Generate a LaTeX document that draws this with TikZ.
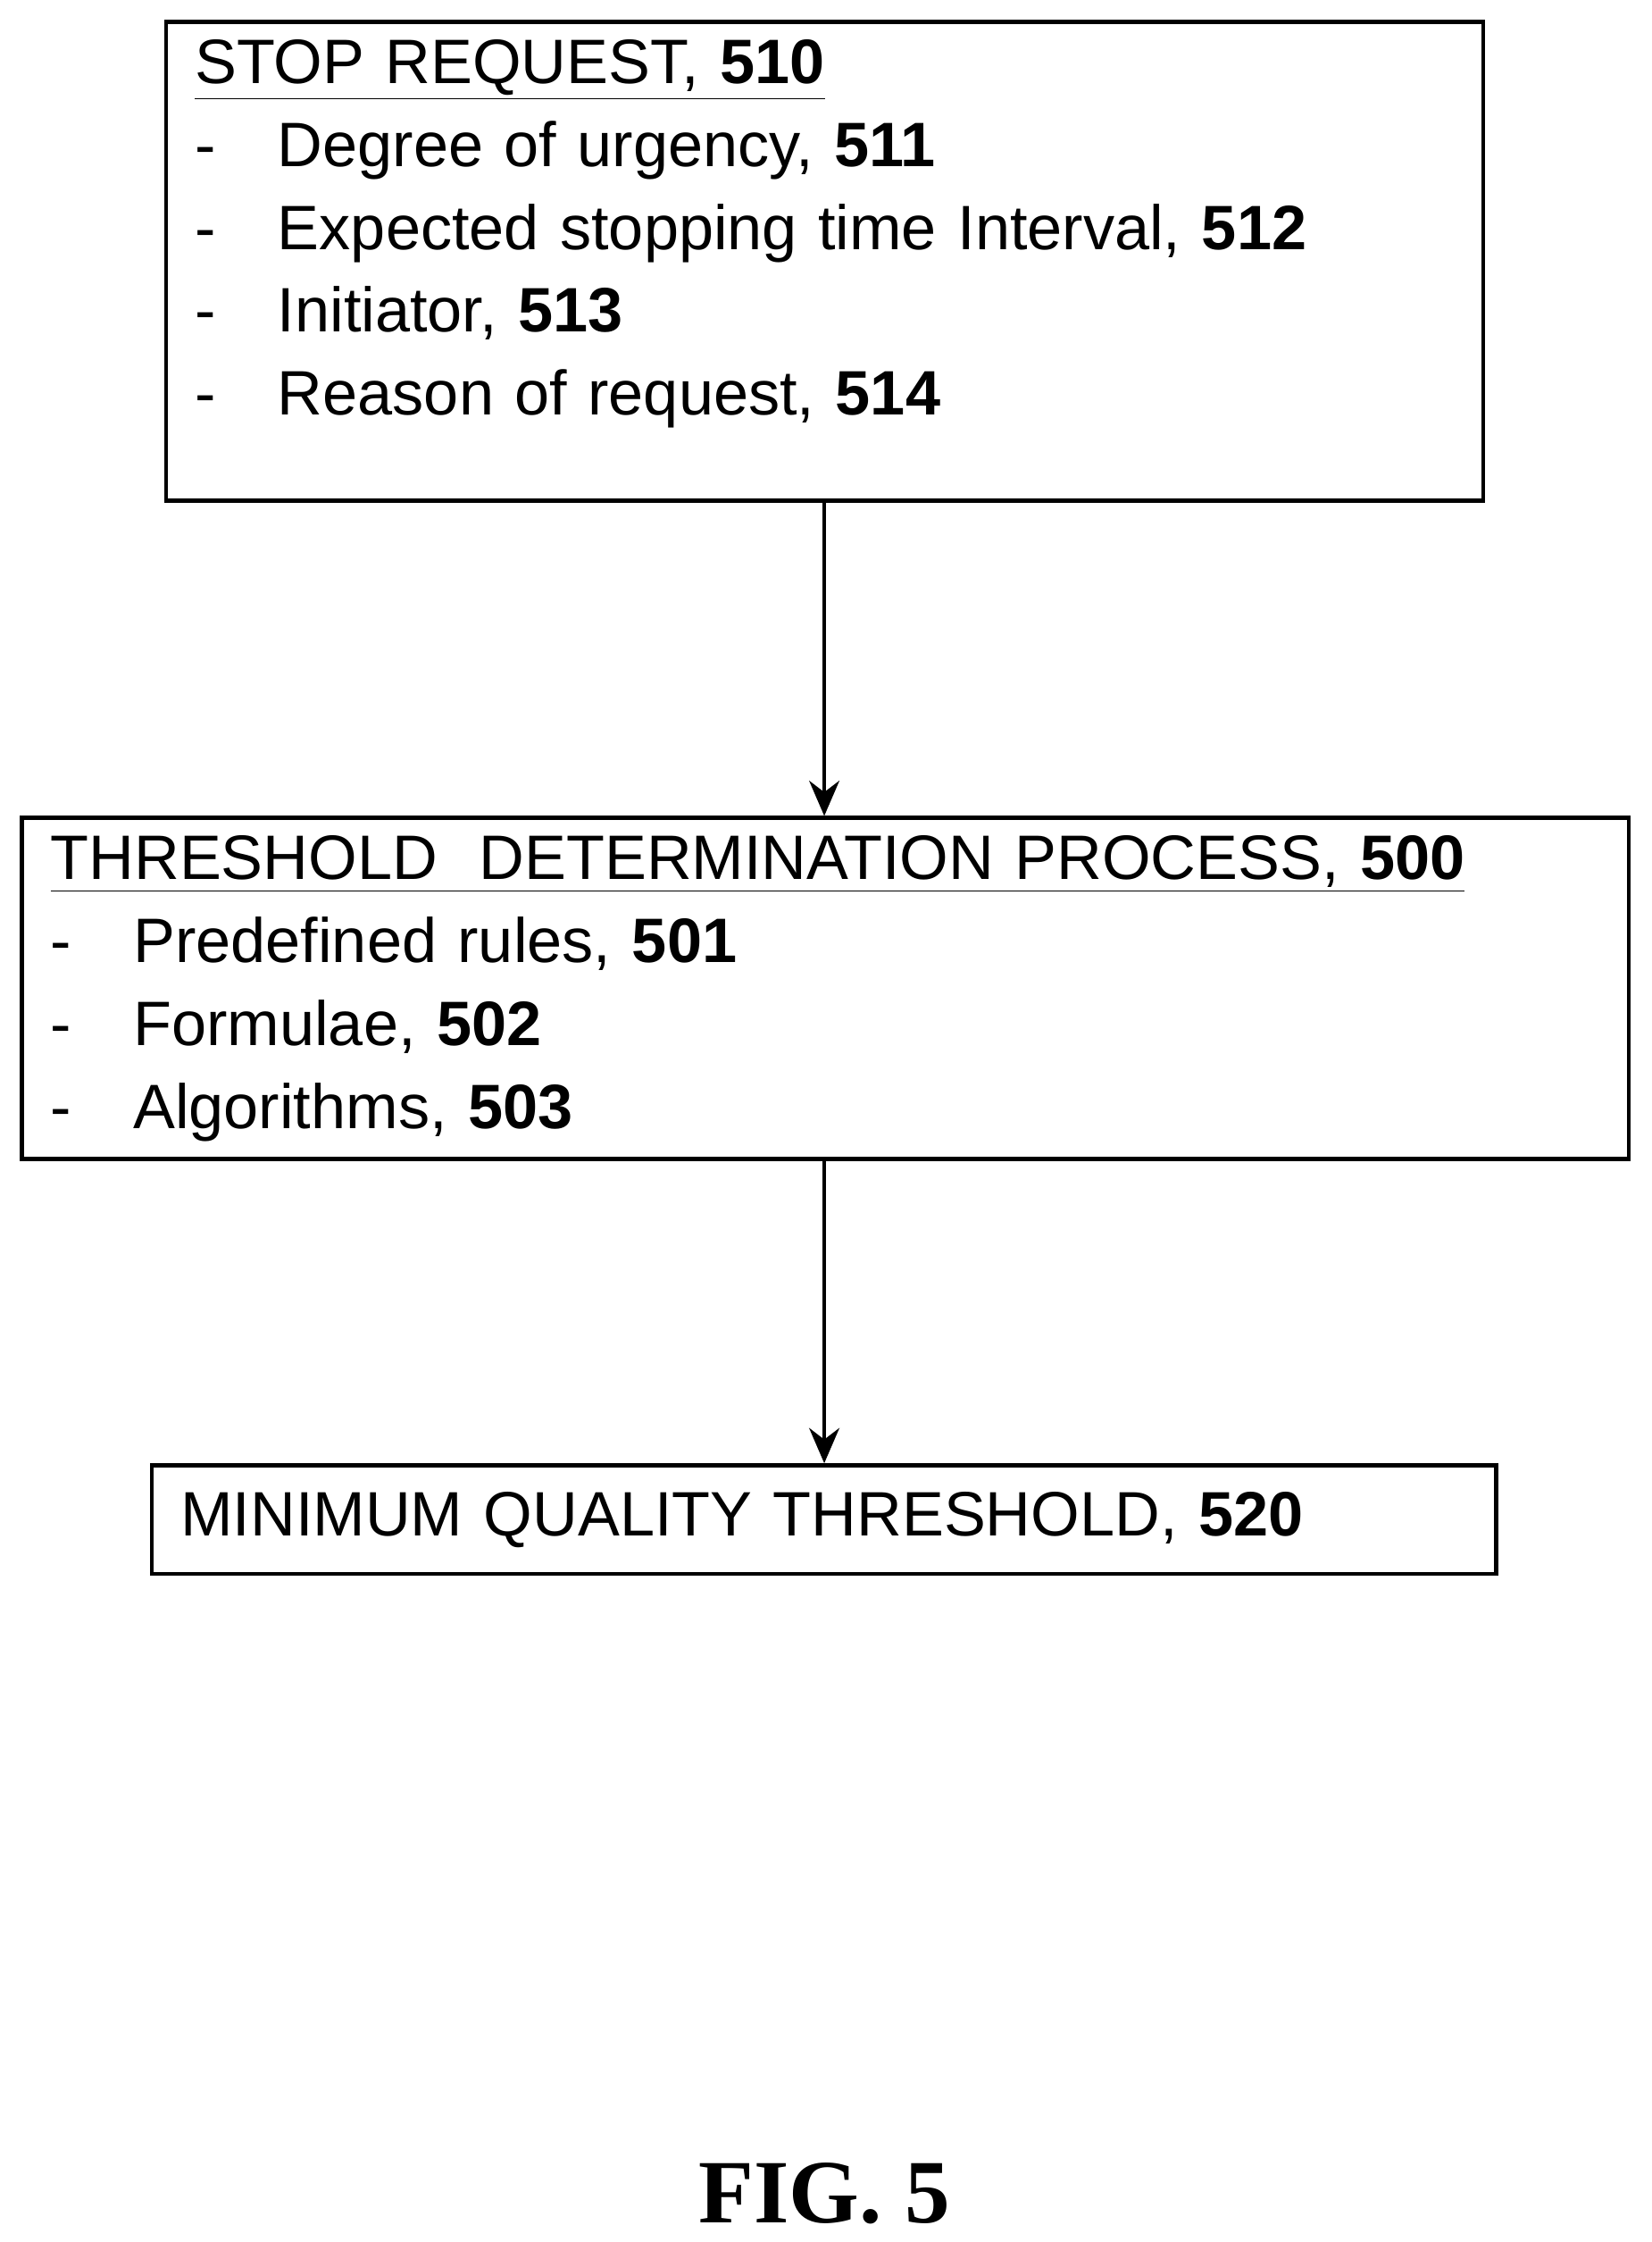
\documentclass[tikz,border=0pt]{standalone}
\usepackage{fontspec}
\setmainfont{Liberation Sans}
\newfontfamily\figfont{Liberation Serif}
\usetikzlibrary{arrows.meta}
\tikzstyle{arrow} = [-{Stealth[length=14pt,width=12pt]},line width=1.6pt]
\tikzstyle{box} = [draw,line width=1.6pt,anchor=north west,align=left,font=\fontsize{25}{33}\selectfont,inner xsep=0.4cm,inner ysep=0.25cm]
\newcommand{\itm}{\makebox[1.16cm][l]{-}}

\begin{document}
\begin{tikzpicture}[x=0.02cm,y=-0.02cm]
        \useasboundingbox (0,0) rectangle (1156,1569);
        \node[box, text width=17.64cm] at (115,14) (req) {\underline{STOP REQUEST, \textbf{510}}\\
            \itm Degree of urgency, \textbf{511}\\
            \itm Expected stopping time Interval, \textbf{512}\\
            \itm Initiator, \textbf{513}\\
            \itm Reason of request, \textbf{514}\\[-6pt]\mbox{}};
        \node[box, text width=21.7cm] at (14,571) (proc) {\underline{THRESHOLD\ \ DETERMINATION PROCESS, \textbf{500}}\\
            \itm Predefined rules, \textbf{501}\\
            \itm Formulae, \textbf{502}\\
            \itm Algorithms, \textbf{503}};
        \node[box, text width=18.02cm, minimum height=1.52cm, inner ysep=0.1cm] at (105,1024) (thr) {MINIMUM QUALITY THRESHOLD, \textbf{520}};
        \node[font=\fontsize{36}{40}\selectfont\bfseries\figfont] at (577,1535) (fig) {FIG. 5};

        \draw[arrow] (req.south -| 577,0) -- (proc.north -| 577,0);
        \draw[arrow] (proc.south -| 577,0) -- (thr.north -| 577,0);
\end{tikzpicture}
\end{document}
